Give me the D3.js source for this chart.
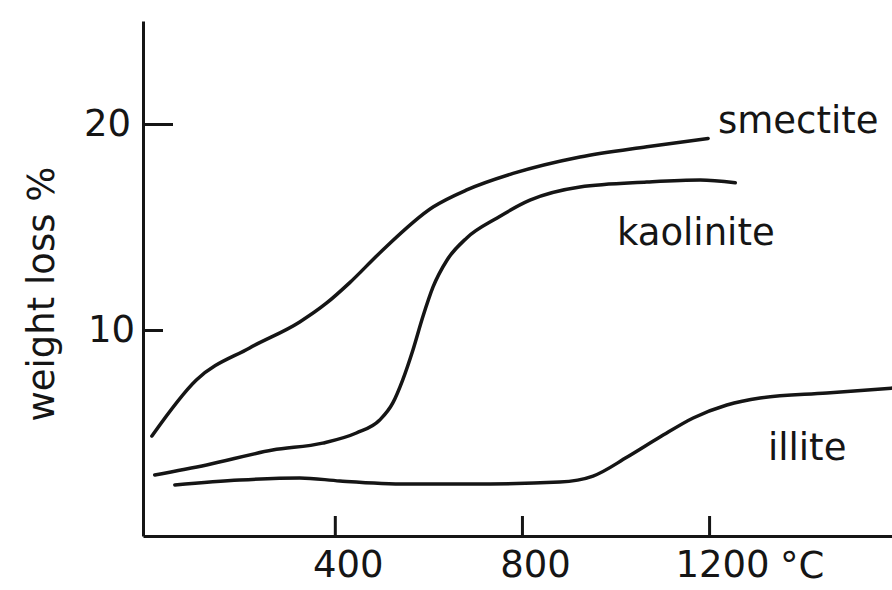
<!DOCTYPE html>
<html>
<head>
<meta charset="utf-8">
<script src="https://cdn.jsdelivr.net/npm/d3@7"></script>
<style>
  body { margin: 0; background: #fff; }
  text { font-family: "DejaVu Sans", Verdana, sans-serif; fill: #151515; }
</style>
</head>
<body>
<div id="chart-area"></div>
<script>
// temperature (°C) and weight loss (%)
const smectiteT = [9, 104, 218, 325, 382, 432, 496, 610, 682, 781, 924, 1067, 1198];
const smectiteW = [4.85, 7.57, 9.13, 10.39, 11.3, 12.3, 13.74, 15.97, 16.8, 17.6, 18.4, 18.9, 19.3];

const kaoliniteT = [15, 126, 267, 374, 446, 496, 524, 545, 567, 588, 610, 640, 682, 747, 817, 924, 1067, 1181, 1256];
const kaoliniteW = [2.96, 3.45, 4.17, 4.51, 5.0, 5.63, 6.46, 7.57, 9.03, 10.63, 12.09, 13.4, 14.47, 15.44, 16.3, 16.94, 17.18, 17.28, 17.15];

const illiteT = [58, 197, 325, 411, 554, 689, 881, 952, 1025, 1095, 1166, 1238, 1309, 1452, 1591];
const illiteW = [2.48, 2.72, 2.82, 2.67, 2.52, 2.52, 2.62, 2.91, 3.83, 4.8, 5.73, 6.36, 6.7, 6.94, 7.18];

const xTicks = [400, 800, 1200];
const yTicks = [10, 20];

const series = [
    { name: "smectite", t: smectiteT, w: smectiteW, lx: 718, ly: 133 },
    { name: "kaolinite", t: kaoliniteT, w: kaoliniteW, lx: 617, ly: 245 },
    { name: "illite", t: illiteT, w: illiteW, lx: 768, ly: 460 }
];

const width = 892;
const height = 590;

const svg = d3.select("#chart-area")
    .append("svg")
    .attr("width", width)
    .attr("height", height);

const x = d3.scaleLinear()
    .domain([-10, 1591])
    .range([143, 892]);

const y = d3.scaleLinear()
    .domain([0, 25])
    .range([536, 21]);

// x axis, ticks pointing up into the plot
const xAxis = d3.axisBottom(x)
    .tickValues(xTicks)
    .tickFormat(d3.format("d"))
    .tickSizeInner(-20)
    .tickSizeOuter(0);

const gx = svg.append("g")
    .attr("transform", `translate(0, ${y(0)})`)
    .call(xAxis);

gx.select(".domain").attr("stroke", "#151515").attr("stroke-width", 3);
gx.selectAll(".tick line").attr("stroke", "#151515").attr("stroke-width", 3);
gx.selectAll(".tick text")
    .attr("font-size", "37px")
    .attr("dx", 13)
    .attr("dy", "0.71em")
    .attr("y", 15)
    .attr("fill", "#151515");

svg.append("text")
    .attr("x", 780)
    .attr("y", 578)
    .attr("font-size", "37px")
    .text("°C");

// y axis, ticks pointing right into the plot
const yAxis = d3.axisLeft(y)
    .tickValues(yTicks)
    .tickSizeOuter(0);

const gy = svg.append("g")
    .attr("transform", `translate(${x(-10)}, 0)`)
    .call(yAxis);

gy.select(".domain").attr("stroke", "#151515").attr("stroke-width", 3);
gy.selectAll(".tick line")
    .attr("stroke", "#151515")
    .attr("stroke-width", 3)
    .attr("x2", d => d === 20 ? 30 : 20);
gy.selectAll(".tick text")
    .attr("font-size", "37px")
    .attr("x", d => d === 20 ? -12 : -8)
    .attr("fill", "#151515");

svg.append("text")
    .attr("transform", `translate(54, 294) rotate(-90)`)
    .attr("text-anchor", "middle")
    .attr("font-size", "37px")
    .text("weight loss %");

const line = d3.line()
    .x(d => x(d[0]))
    .y(d => y(d[1]))
    .curve(d3.curveMonotoneX);

svg.selectAll(".curve")
    .data(series)
    .enter()
    .append("path")
    .attr("class", "curve")
    .attr("d", s => line(d3.zip(s.t, s.w)))
    .attr("fill", "none")
    .attr("stroke", "#151515")
    .attr("stroke-width", 3.5)
    .attr("stroke-linecap", "round");

svg.selectAll(".label")
    .data(series)
    .enter()
    .append("text")
    .attr("class", "label")
    .attr("x", s => s.lx)
    .attr("y", s => s.ly)
    .attr("font-size", "37px")
    .text(s => s.name);
</script>
</body>
</html>
